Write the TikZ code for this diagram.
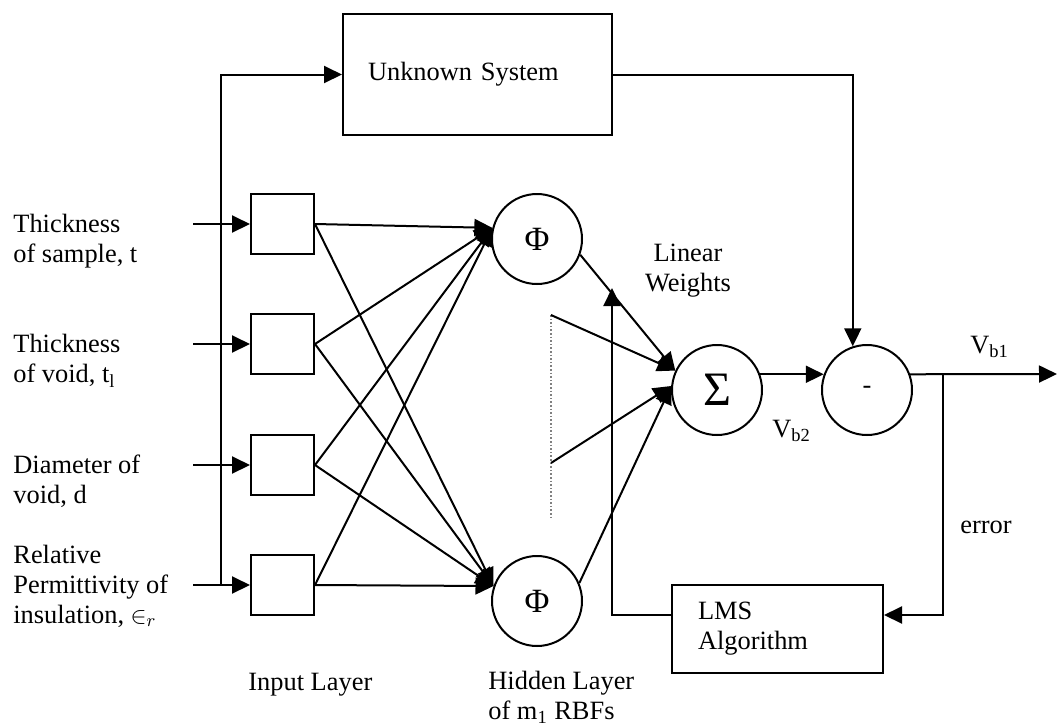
\documentclass[tikz,border=0pt]{standalone}
\usepackage{fontspec}
\setmainfont{Liberation Serif}
\usetikzlibrary{arrows.meta,positioning,calc}

\begin{document}
\begin{tikzpicture}[
    x=0.5pt, y=-0.5pt,
    font=\fontsize{13.2}{15}\selectfont,
    inbox/.style={rectangle, draw, line width=1pt, minimum width=31.5pt, minimum height=30pt, inner sep=0pt},
    sysbox/.style={rectangle, draw, line width=1pt, inner ysep=0pt, align=left},
    neuron/.style={circle, draw, line width=1pt, minimum size=45pt, inner sep=0pt},
    txt/.style={inner sep=0pt, align=left},
    arrow/.style={-{Triangle[length=9pt,width=8.5pt]}, line width=1pt},
    wire/.style={line width=1pt}
]
    \useasboundingbox (0,0) rectangle (1057,725);

    % input labels
    \node [txt, anchor=west] (lab1) at (13,241) {Thickness\\of sample, t};
    \node [txt, anchor=west] (lab2) at (13,361) {Thickness\\of void, t\textsubscript{l}};
    \node [txt, anchor=west] (lab3) at (13,481) {Diameter of\\void, d};
    \node [txt, anchor=west] (lab4) at (13,586) {Relative\\Permittivity of\\insulation, $\in_{r}$};

    % input layer
    \foreach \i/\y in {1/224,2/344,3/465,4/585} {
        \node [inbox] (in\i) at (282.5,\y) {};
        \coordinate (src\i) at (193,\y);
        \draw [arrow] (src\i) -- (in\i);
    }

    % hidden layer and output stages
    \node [neuron] (phi1) at (537,239) {\fontsize{17}{17}\selectfont Φ};
    \node [neuron] (phi2) at (537,601) {\fontsize{17}{17}\selectfont Φ};
    \node [neuron] (sum) at (717,390) {\fontsize{24}{24}\selectfont Σ};
    \node [neuron] (minus) at (867,390) {-};

    \node [sysbox, minimum height=60.5pt, text width=109.5pt, inner xsep=12.5pt] (unknown) at (477.5,74.5) {Unknown System};
    \node [sysbox, minimum height=44pt, text width=79.5pt, inner xsep=13pt] (lms) at (777.5,629) {LMS\\Algorithm};

    % other labels
    \node [txt, anchor=base west] (inlayer) at (248,690) {Input Layer};
    \node [txt, anchor=west] (hidlayer) at (488,697) {Hidden Layer\\of m\textsubscript{1} RBFs};
    \node [txt, align=center] (weights) at (688,271) {Linear\\Weights};
    \node [txt, anchor=base west] (vb2) at (772,437) {V\textsubscript{b2}};
    \node [txt, anchor=base west] (vb1) at (970,353) {V\textsubscript{b1}};
    \node [txt, anchor=base west] (err) at (960,533) {error};

    \coordinate (tap) at (221,585);
    \coordinate (dtop) at (551,315);
    \coordinate (dmid) at (551,463);
    \coordinate (dbot) at (551,518);
    \coordinate (adapt) at (612,288);
    \coordinate (out) at (1057,374);
    \coordinate (branch) at (943,374);

    % connections
    \draw [arrow] (tap) |- (unknown.west);
    \foreach \i in {1,...,4} {
        \draw [arrow] (in\i.east) -- (phi1.166);
        \draw [arrow] (in\i.east) -- (phi2.161);
    }
    \draw [densely dotted, gray, line width=0.8pt] (dtop) -- (dbot);
    \draw [arrow] (phi1.-20) -- (sum.155);
    \draw [arrow] (dtop) -- (sum.155);
    \draw [arrow] (dmid) -- (sum.175);
    \draw [arrow] (phi2.23) -- (sum.175);
    \draw [arrow] (sum.20) -- (minus.160);
    \draw [arrow] (unknown.east) -| (minus.108);
    \draw [arrow] (minus.20) -- (out);
    \draw [arrow] (branch) |- ([yshift=7pt]lms.east);
    \draw [arrow] ([yshift=7pt]lms.west) -| (adapt);
\end{tikzpicture}
\end{document}
